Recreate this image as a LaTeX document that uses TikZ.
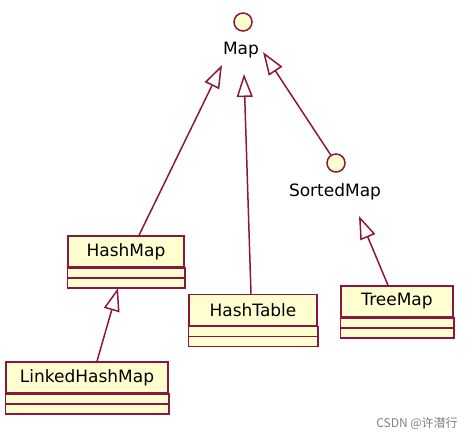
\documentclass[tikz,border=0pt]{standalone}
\usepackage{fontspec}
\setmainfont{DejaVu Sans}
\newfontfamily\cjkfont{Noto Sans CJK SC}
\usetikzlibrary{arrows.meta}
\definecolor{umlred}{RGB}{140,22,62}
\definecolor{umlfill}{RGB}{255,255,208}
\begin{document}
\begin{tikzpicture}[x=1pt,y=-1pt,line width=1.5pt,
    class node/.style={rectangle,draw=umlred,fill=umlfill,inner sep=0pt,minimum height=31pt,font=\fontsize{17}{20}\selectfont},
    iface node/.style={circle,draw=umlred,fill=umlfill,inner sep=0pt,minimum size=18pt},
    iface label/.style={font=\fontsize{17}{20}\selectfont},
    inherit/.style={draw=umlred,-{Triangle[open,length=23pt,width=16pt]}}]
                \useasboundingbox (0,0) rectangle (474,437);

                % interfaces
                \node[iface node] (map) at (243,22) {};
                \node[iface label] (maplbl) at (241,50) {Map};
                \node[iface node] (sortedmap) at (336,163) {};
                \node[iface label] (sortedlbl) at (335,192) {SortedMap};

                % classes
                \node[class node,minimum width=116pt] (hashmap) at (126,251.5) {HashMap};
                \node[class node,minimum width=128pt] (hashtable) at (253,310) {HashTable};
                \node[class node,minimum width=162pt] (linked) at (87,377.5) {LinkedHashMap};
                \node[class node,minimum width=112pt] (treemap) at (397,301.5) {TreeMap};
                \foreach \c in {hashmap,hashtable,linked,treemap} {
                    \filldraw[draw=umlred,fill=umlfill] (\c.south west) rectangle ([yshift=-20pt]\c.south east);
                    \draw[umlred] ([yshift=-10pt]\c.south west) -- ([yshift=-10pt]\c.south east);
                }

                % arrow tips
                \coordinate (mapA) at (222,65);
                \coordinate (mapB) at (244,74);
                \coordinate (mapC) at (263,52);
                \coordinate (sortedA) at (359,216);
                \coordinate (hashmapA) at (118,288);

                \draw[inherit] ([xshift=13pt]hashmap.north) -- (mapA);
                \draw[inherit] ([xshift=-2pt]hashtable.north) -- (mapB);
                \draw[inherit] (sortedmap) -- (mapC);
                \draw[inherit] ([xshift=-9pt]treemap.north) -- (sortedA);
                \draw[inherit] ([xshift=10pt]linked.north) -- (hashmapA);

                \node[text=gray,font=\cjkfont\fontsize{12}{14}\selectfont] (mark) at (417,423) {CSDN @许潜行};
\end{tikzpicture}
\end{document}
